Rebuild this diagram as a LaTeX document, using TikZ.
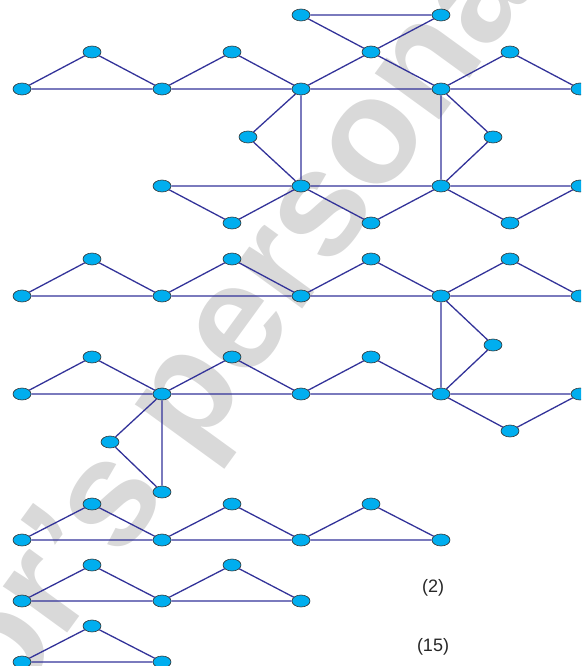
\documentclass[tikz,border=0pt]{standalone}
\usepackage{fontspec}
\setmainfont{Liberation Sans}
\usetikzlibrary{shapes.geometric}
\definecolor{nodefill}{RGB}{0,174,239}
\definecolor{edgecol}{RGB}{51,51,153}
\definecolor{wmgray}{RGB}{217,217,217}
\begin{document}
\begin{tikzpicture}[x=1pt,y=-1pt,
  vtx/.style={ellipse,draw=black!80,line width=0.6pt,fill=nodefill,minimum width=18pt,minimum height=12pt,inner sep=0pt},
  edge/.style={draw=edgecol,line width=1.3pt},
  lbl/.style={font=\fontsize{18}{20}\selectfont,text=black!85}]
\useasboundingbox (0,0) rectangle (581,666);
\clip (0,0) rectangle (581,666);
% watermark
\node[rotate=54,anchor=base,text=wmgray,inner sep=0pt,font=\fontsize{150}{152}\bfseries\selectfont] (wm) at (299,314) {Author's personal copy};

% ---------- graph 1 ----------
\node[vtx] (t1) at (301,15) {};
\node[vtx] (t2) at (441,15) {};
\node[vtx] (t3) at (371,52) {};
\node[vtx] (u1) at (92,52) {};
\node[vtx] (u2) at (232,52) {};
\node[vtx] (u4) at (510,52) {};
\node[vtx] (a0) at (22,89) {};
\node[vtx] (a1) at (162,89) {};
\node[vtx] (a2) at (301,89) {};
\node[vtx] (a3) at (441,89) {};
\node[vtx] (a4) at (580,89) {};
\node[vtx] (s1) at (248,137) {};
\node[vtx] (s2) at (493,137) {};
\node[vtx] (b1) at (162,186) {};
\node[vtx] (b2) at (301,186) {};
\node[vtx] (b3) at (441,186) {};
\node[vtx] (b4) at (580,186) {};
\node[vtx] (d1) at (232,223) {};
\node[vtx] (d2) at (371,223) {};
\node[vtx] (d3) at (510,223) {};

% ---------- graph 2 ----------
\node[vtx] (cu1) at (92,259) {};
\node[vtx] (cu2) at (232,259) {};
\node[vtx] (cu3) at (371,259) {};
\node[vtx] (cu4) at (510,259) {};
\node[vtx] (c0) at (22,296) {};
\node[vtx] (c1) at (162,296) {};
\node[vtx] (c2) at (301,296) {};
\node[vtx] (c3) at (441,296) {};
\node[vtx] (c4) at (580,296) {};
\node[vtx] (cs) at (493,345) {};
\node[vtx] (eu1) at (92,357) {};
\node[vtx] (eu2) at (232,357) {};
\node[vtx] (eu3) at (371,357) {};
\node[vtx] (e0) at (22,394) {};
\node[vtx] (e1) at (162,394) {};
\node[vtx] (e2) at (301,394) {};
\node[vtx] (e3) at (441,394) {};
\node[vtx] (e4) at (580,394) {};
\node[vtx] (ed) at (510,431) {};
\node[vtx] (es) at (110,442) {};
\node[vtx] (ef) at (162,492) {};

% ---------- graph 3 ----------
\node[vtx] (fu1) at (92,504) {};
\node[vtx] (fu2) at (232,504) {};
\node[vtx] (fu3) at (371,504) {};
\node[vtx] (f0) at (22,540) {};
\node[vtx] (f1) at (162,540) {};
\node[vtx] (f2) at (301,540) {};
\node[vtx] (f3) at (441,540) {};

% ---------- graph 4 ----------
\node[vtx] (gu1) at (92,565) {};
\node[vtx] (gu2) at (232,565) {};
\node[vtx] (g0) at (22,601) {};
\node[vtx] (g1) at (162,601) {};
\node[vtx] (g2) at (301,601) {};

% ---------- graph 5 ----------
\node[vtx] (hu1) at (92,626) {};
\node[vtx] (h0) at (22,662) {};
\node[vtx] (h1) at (162,662) {};

% labels
\node[lbl] (l2) at (433,588) {(2)};
\node[lbl] (l15) at (433,647) {(15)};

% ---------- edges ----------
\path[edge]
  (t1)--(t2) (t1)--(t3) (t2)--(t3) (t3)--(a2) (t3)--(a3)
  (a0)--(a1) (a1)--(a2) (a2)--(a3) (a3)--(a4)
  (a0)--(u1) (u1)--(a1) (a1)--(u2) (u2)--(a2) (a3)--(u4) (u4)--(a4)
  (a2)--(b2) (a2)--(s1) (s1)--(b2)
  (a3)--(b3) (a3)--(s2) (s2)--(b3)
  (b1)--(b2) (b2)--(b3) (b3)--(b4)
  (b1)--(d1) (d1)--(b2) (b2)--(d2) (d2)--(b3) (b3)--(d3) (d3)--(b4)
  (c0)--(c1) (c1)--(c2) (c2)--(c3) (c3)--(c4)
  (c0)--(cu1) (cu1)--(c1) (c1)--(cu2) (cu2)--(c2) (c2)--(cu3) (cu3)--(c3) (c3)--(cu4) (cu4)--(c4)
  (c3)--(e3) (c3)--(cs) (cs)--(e3)
  (e0)--(e1) (e1)--(e2) (e2)--(e3) (e3)--(e4)
  (e0)--(eu1) (eu1)--(e1) (e1)--(eu2) (eu2)--(e2) (e2)--(eu3) (eu3)--(e3)
  (e3)--(ed) (ed)--(e4)
  (e1)--(ef) (e1)--(es) (es)--(ef)
  (f0)--(f1) (f1)--(f2) (f2)--(f3)
  (f0)--(fu1) (fu1)--(f1) (f1)--(fu2) (fu2)--(f2) (f2)--(fu3) (fu3)--(f3)
  (g0)--(g1) (g1)--(g2)
  (g0)--(gu1) (gu1)--(g1) (g1)--(gu2) (gu2)--(g2)
  (h0)--(h1) (h0)--(hu1) (hu1)--(h1);
\end{tikzpicture}
\end{document}
